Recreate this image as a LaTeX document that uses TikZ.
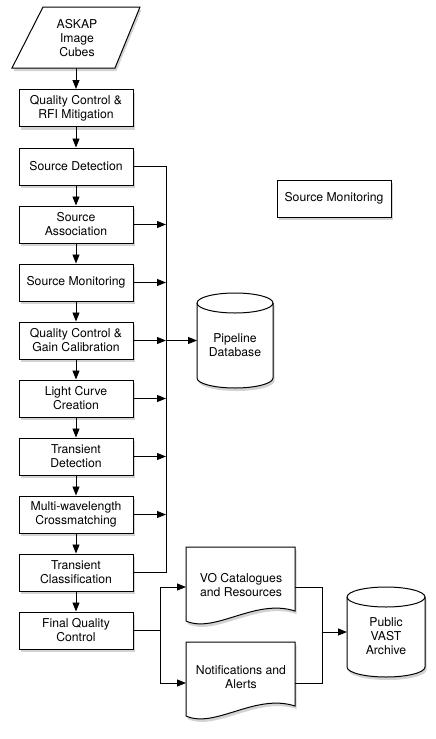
\documentclass[tikz,border=0pt]{standalone}
\usepackage{fontspec}
\setmainfont{TeX Gyre Heros}
\usetikzlibrary{arrows.meta,shadows,calc}
\begin{document}
\begin{tikzpicture}[x=1pt,y=-1pt,
  font=\fontsize{12.2}{14}\selectfont,
  shad/.style={drop shadow={opacity=0.35,shadow xshift=1.5pt,shadow yshift=-3pt}},
  proc/.style={draw=black,line width=1pt,fill=white,shad,minimum width=114pt,minimum height=37pt,align=center,inner sep=0pt},
  txt/.style={align=center,inner sep=0pt},
  line/.style={line width=0.9pt},
  arr/.style={line width=0.9pt,-{Triangle[length=9pt,width=7pt]}}]
\useasboundingbox (0,0) rectangle (436,739);

% ASKAP parallelogram
\draw[line width=1pt,fill=white,shad] (43,7) -- (140,7) -- (115,68) -- (12,68) -- cycle;
\node[txt] (askap) at (77,38.5) {ASKAP\\Image\\Cubes};
\coordinate (askapb) at (76,68);

% process boxes
\node[proc] (qc1) at (76,108) {Quality Control \&\\RFI Mitigation};
\node[proc] (sd)  at (76,166.5) {Source Detection};
\node[proc] (sa)  at (76,224.5) {Source\\Association};
\node[proc] (sm)  at (76,282.5) {Source Monitoring};
\node[proc] (qcg) at (76,340.5) {Quality Control \&\\Gain Calibration};
\node[proc] (lc)  at (76,398.5) {Light Curve\\Creation};
\node[proc] (td)  at (76,456.5) {Transient\\Detection};
\node[proc] (mw)  at (76,514.5) {Multi-wavelength\\Crossmatching};
\node[proc] (tc)  at (76,572.5) {Transient\\Classification};
\node[proc] (fqc) at (76,630.5) {Final Quality\\Control};

\node[proc] (sm2) at (334,198.5) {Source Monitoring};

% Pipeline Database cylinder
\draw[line width=1pt,fill=white,shad] (197,303) -- (197,378) arc[start angle=180,end angle=0,x radius=38,y radius=10] -- (273,303) arc[start angle=0,end angle=-180,x radius=38,y radius=10] -- cycle;
\draw[line width=1pt] (197,303) arc[start angle=180,end angle=0,x radius=38,y radius=10];
\node[txt] (db) at (235,345.5) {Pipeline\\Database};
\coordinate (dbw) at (197,340.5);

% Public VAST Archive cylinder
\draw[line width=1pt,fill=white,shad] (347,597) -- (347,667) arc[start angle=180,end angle=0,x radius=39,y radius=10] -- (425,597) arc[start angle=0,end angle=-180,x radius=39,y radius=10] -- cycle;
\draw[line width=1pt] (347,597) arc[start angle=180,end angle=0,x radius=39,y radius=10];
\node[txt] (pva) at (386,636) {Public\\VAST\\Archive};
\coordinate (pvaw) at (347,632);

% documents
\draw[line width=1pt,fill=white,shad] (186,547) -- (295,547) -- (295,611) .. controls (255,598) and (215,634) .. (186,621) -- cycle;
\node[txt] (vo) at (241,585) {VO Catalogues\\and Resources};
\coordinate (vow) at (186,587);
\coordinate (voe) at (295,587);

\draw[line width=1pt,fill=white,shad] (186,642) -- (295,642) -- (295,706) .. controls (255,693) and (215,729) .. (186,716) -- cycle;
\node[txt] (na) at (241,677) {Notifications and\\Alerts};
\coordinate (naw) at (186,683);
\coordinate (nae) at (295,683);

% main chain
\draw[arr] (askapb) -- (qc1.north);
\draw[arr] (qc1.south) -- (sd.north);
\draw[arr] (sd.south) -- (sa.north);
\draw[arr] (sa.south) -- (sm.north);
\draw[arr] (sm.south) -- (qcg.north);
\draw[arr] (qcg.south) -- (lc.north);
\draw[arr] (lc.south) -- (td.north);
\draw[arr] (td.south) -- (mw.north);
\draw[arr] (mw.south) -- (tc.north);
\draw[arr] (tc.south) -- (fqc.north);

% bus to database
\coordinate (bt) at (166,166.5);
\coordinate (bb) at (166,572.5);
\draw[line] (sd.east) -- (bt) -- (bb) -- (tc.east);
\draw[arr] (sa.east) -- (sa.east -| bt);
\draw[arr] (sm.east) -- (sm.east -| bt);
\draw[arr] (qcg.east) -- (qcg.east -| bt);
\draw[arr] (qcg.east -| bt) -- (dbw);
\draw[arr] (lc.east) -- (lc.east -| bt);
\draw[arr] (td.east) -- (td.east -| bt);
\draw[arr] (mw.east) -- (mw.east -| bt);

% outputs
\coordinate (fj) at (160,630.5);
\draw[line] (fqc.east) -- (fj);
\draw[arr] (fj) |- (vow);
\draw[arr] (fj) |- (naw);
\coordinate (oj) at (322,632);
\draw[line] (voe) -| (oj);
\draw[line] (nae) -| (oj);
\draw[arr] (oj) -- (pvaw);
\end{tikzpicture}
\end{document}
